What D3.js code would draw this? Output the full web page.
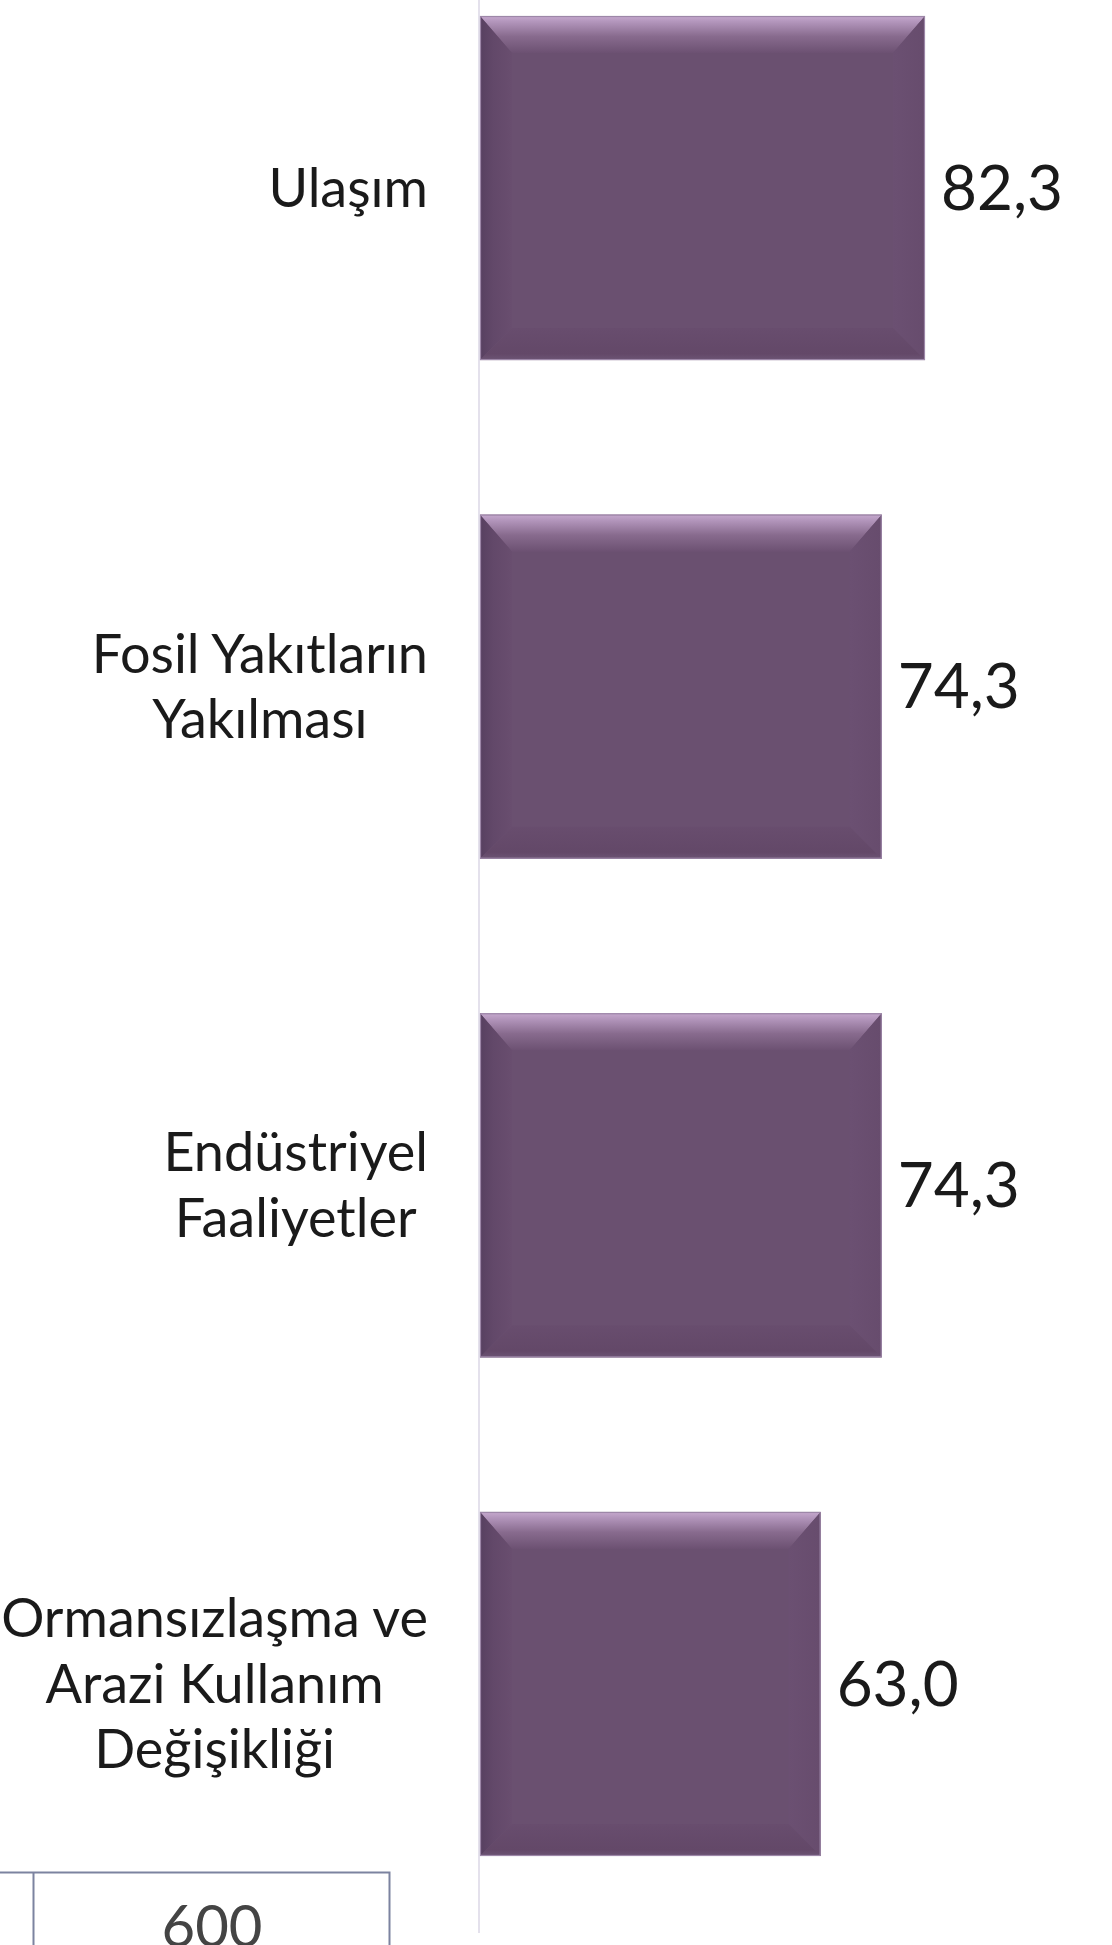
<!DOCTYPE html>
<html>
<head>
<meta charset="utf-8">
<script src="https://cdn.jsdelivr.net/npm/d3@7"></script>
<style>
  body { margin: 0; background: #fff; }
  svg { display: block; }
  text { font-family: Lato, "Noto Sans", sans-serif; }
</style>
</head>
<body>
<div id="app"></div>
<script>
// data
var categories = ['Ulaşım', 'Fosil Yakıtların Yakılması', 'Endüstriyel Faaliyetler', 'Ormansızlaşma ve Arazi Kullanım Değişikliği'];
var labelLines = [
    ['Ulaşım'],
    ['Fosil Yakıtların', 'Yakılması'],
    ['Endüstriyel', 'Faaliyetler'],
    ['Ormansızlaşma ve', 'Arazi Kullanım', 'Değişikliği']
];
var values = [82.3, 74.3, 74.3, 63.0];
var tableCells = ['600'];

var width = 1112, height = 1945;
var axisX = 480;
var labelRight = 428;
var bevel = 32;

var svg = d3.select('#app')
    .append('svg')
    .attr('width', width)
    .attr('height', height);

var x = d3.scaleLinear()
    .domain([0, 117])
    .range([axisX, axisX + 5.407 * 117]);

var y = d3.scaleBand()
    .domain(categories)
    .range([16, 1856])
    .paddingInner(0.31)
    .paddingOuter(0);

var tr = d3.formatLocale({ decimal: ',', thousands: '.', grouping: [3], currency: ['', ''] });
var fmt = tr.format('.1f');

// gradients for the bevel look
var defs = svg.append('defs');
function grad(id, x2, y2, stops) {
    var g = defs.append('linearGradient')
        .attr('id', id)
        .attr('x1', 0).attr('y1', 0)
        .attr('x2', x2).attr('y2', y2);
    stops.forEach(function(s) {
        g.append('stop').attr('offset', s[0]).attr('stop-color', s[1]);
    });
}
grad('bvTop', 0, 1, [[0, '#c6a9ce'], [0.15, '#b396bc'], [0.55, '#886b8e'], [1, '#6c5172']]);
grad('bvLeft', 1, 0, [[0, '#574060'], [0.4, '#624869'], [1, '#694e6f']]);
grad('bvRight', 1, 0, [[0, '#6b5072'], [1, '#674c6d']]);
grad('bvBottom', 0, 1, [[0, '#684d6e'], [0.8, '#634868'], [1, '#6c5474']]);

// axis line
svg.append('line')
    .attr('x1', axisX - 1).attr('x2', axisX - 1)
    .attr('y1', 0).attr('y2', 1933)
    .attr('stroke', '#e4e1ec')
    .attr('stroke-width', 2);

var bars = svg.selectAll('g.bar')
    .data(categories)
    .enter()
    .append('g')
    .attr('class', 'bar');

bars.each(function(c, i) {
    var g = d3.select(this);
    var x0 = x(0), x1 = x(values[i]);
    var y0 = y(c), y1 = y(c) + y.bandwidth();
    var b = bevel;

    g.append('rect')
        .attr('x', x0).attr('y', y0)
        .attr('width', x1 - x0).attr('height', y1 - y0)
        .attr('fill', '#6a5070');

    var polys = [
        ['bvTop', [[x0, y0], [x1, y0], [x1 - b, y0 + b + 5], [x0 + b, y0 + b + 5]]],
        ['bvLeft', [[x0, y0], [x0 + b, y0 + b + 5], [x0 + b, y1 - b], [x0, y1]]],
        ['bvRight', [[x1 - b, y0 + b + 5], [x1, y0], [x1, y1], [x1 - b, y1 - b]]],
        ['bvBottom', [[x0 + b, y1 - b], [x1 - b, y1 - b], [x1, y1], [x0, y1]]]
    ];
    polys.forEach(function(p) {
        g.append('polygon')
            .attr('points', p[1].map(function(pt) { return pt.join(','); }).join(' '))
            .attr('fill', 'url(#' + p[0] + ')');
    });

    g.append('rect')
        .attr('x', x0 + 0.5).attr('y', y0 + 0.5)
        .attr('width', x1 - x0 - 1).attr('height', y1 - y0 - 1)
        .attr('fill', 'none')
        .attr('stroke', '#9d87a8')
        .attr('stroke-width', 1.2);

    // value label
    g.append('text')
        .attr('x', x1 + 16)
        .attr('y', (y0 + y1) / 2)
        .attr('dy', '0.35em')
        .attr('font-size', 62)
        .attr('fill', '#1a1a1a')
        .text(fmt(values[i]));

    // category label: lines centred on each other, block right aligned
    var lines = labelLines[i];
    var lh = 65.5;
    var cy = (y0 + y1) / 2;
    var t = g.append('text')
        .attr('text-anchor', 'middle')
        .attr('font-size', 54)
        .attr('fill', '#1a1a1a');
    var spans = lines.map(function(l, k) {
        return t.append('tspan')
            .attr('y', cy + (k - (lines.length - 1) / 2) * lh)
            .attr('dy', '0.35em')
            .text(l);
    });
    var maxW = d3.max(spans, function(s) { return s.node().getComputedTextLength(); });
    spans.forEach(function(s) { s.attr('x', labelRight - maxW / 2); });
});

// fragment of a table at the bottom left
var tbl = svg.append('g').attr('class', 'table');
tbl.append('path')
    .attr('d', 'M0,1872.5 H389.5 V1945 M33.5,1872.5 V1945')
    .attr('fill', 'none')
    .attr('stroke', '#7c83a0')
    .attr('stroke-width', 2);
tbl.selectAll('text')
    .data(tableCells)
    .enter()
    .append('text')
    .attr('x', 212)
    .attr('y', 1947)
    .attr('text-anchor', 'middle')
    .attr('font-size', 58)
    .attr('fill', '#444')
    .text(function(d) { return d; });
</script>
</body>
</html>
